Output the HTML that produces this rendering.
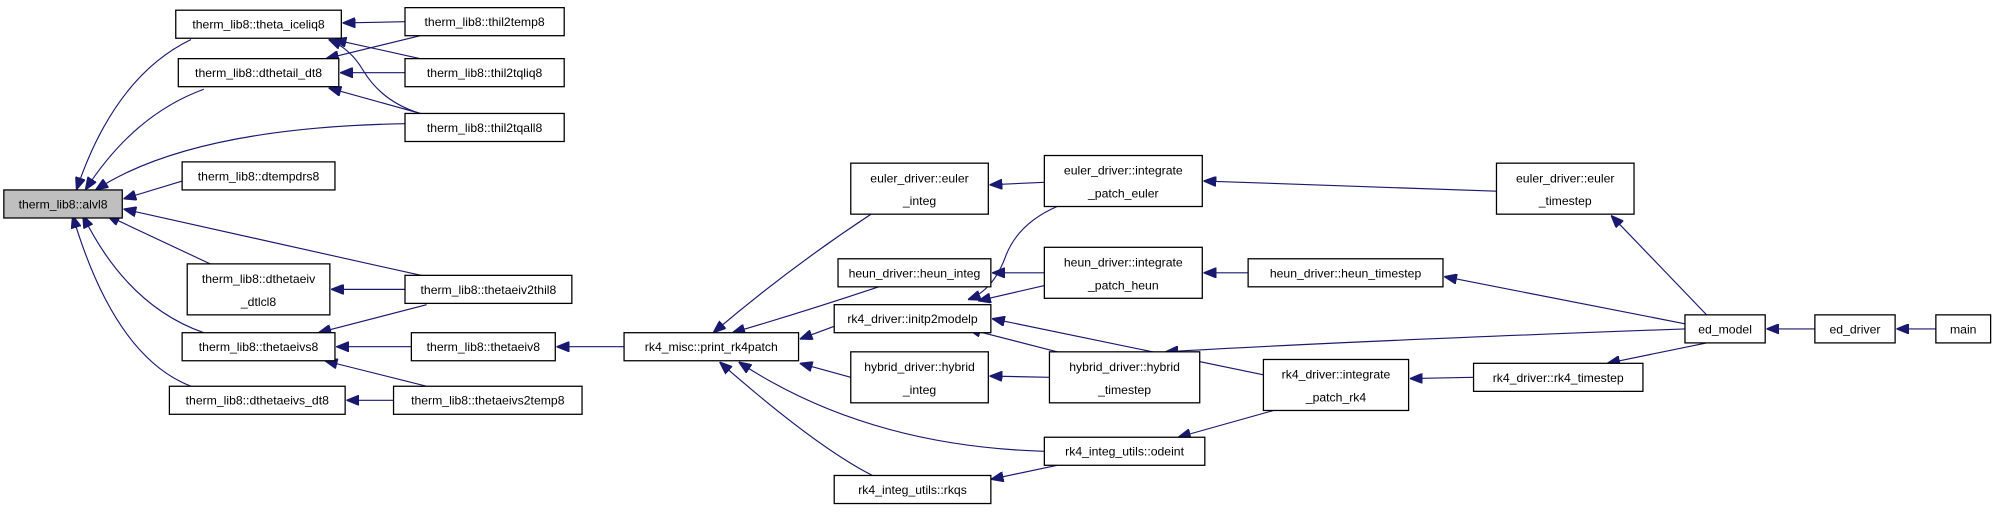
<!DOCTYPE html>
<html><head><meta charset="utf-8"><style>
html,body{margin:0;padding:0;background:#fff;}
svg{display:block;}
text{font-family:"Liberation Sans",Arial,sans-serif;font-size:9.6px;fill:#000;text-anchor:middle;}
rect{fill:#fff;stroke:#000;stroke-width:1;}
path{fill:none;stroke:#191970;stroke-width:0.9;}
</style></head><body>
<svg width="1997" height="515" viewBox="0 0 1568 404" preserveAspectRatio="none" xmlns="http://www.w3.org/2000/svg">
<defs><marker id="a" viewBox="0 0 10 8" refX="10" refY="4" markerWidth="10" markerHeight="8" markerUnits="userSpaceOnUse" orient="auto"><path d="M0,0 L10,4 L0,8 z" style="fill:#191970;stroke:#191970"/></marker></defs>
<g marker-end="url(#a)">
<path d="M150,31 Q90,60 60,149"/>
<path d="M160,70 Q105,90 67,149"/>
<path d="M318,97 Q150,100 75,149"/>
<path d="M143,142 L97,156"/>
<path d="M335,217 L97,164"/>
<path d="M165,207 L84,169"/>
<path d="M160,261 Q100,240 65,169"/>
<path d="M150,303 Q90,280 57,169"/>
<path d="M318,17 L269,18"/>
<path d="M330,46 L262,31"/>
<path d="M330,89 Q300,80 285,55 Q275,38 258,31"/>
<path d="M330,28 L256,46"/>
<path d="M318,57 L267,57"/>
<path d="M330,89 L258,69"/>
<path d="M318,227 L260,227"/>
<path d="M335,239 L250,261"/>
<path d="M323,272 L264,272"/>
<path d="M335,303 L255,283"/>
<path d="M309,314 L272,314"/>
<path d="M490,272 L437,272"/>
<path d="M684,168 Q620,210 560,261"/>
<path d="M690,225 Q630,245 575,261"/>
<path d="M655,256 L628,266"/>
<path d="M668,296 L628,285"/>
<path d="M820,354 Q680,350 580,284"/>
<path d="M685,373 Q640,350 565,284"/>
<path d="M820,143 L777,145"/>
<path d="M820,214 L779,214"/>
<path d="M830,162 Q800,175 790,200 Q780,228 760,235"/>
<path d="M820,224 L768,236"/>
<path d="M992,294 L779,250"/>
<path d="M830,276 L760,258"/>
<path d="M824,296 L777,295"/>
<path d="M830,365 L778,376"/>
<path d="M980,214 L945,214"/>
<path d="M1175,150 L945,142"/>
<path d="M1157,296 L1107,297"/>
<path d="M1000,322 L925,343"/>
<path d="M1340,247 L1265,169"/>
<path d="M1323,254 L1134,217"/>
<path d="M1323,258 Q1050,268 915,276"/>
<path d="M1340,269 L1262,285"/>
<path d="M1425,258 L1387,258"/>
<path d="M1520,258 L1489,258"/>
</g>
<rect x="3" y="149" width="93" height="22" style="fill:#bfbfbf"/><text x="49.5" y="163.5">therm_lib8::alvl8</text>
<rect x="138" y="8" width="130" height="22"/><text x="203" y="22.5">therm_lib8::theta_iceliq8</text>
<rect x="318" y="6" width="125" height="22"/><text x="380.5" y="20.5">therm_lib8::thil2temp8</text>
<rect x="140" y="46" width="126" height="22"/><text x="203" y="60.5">therm_lib8::dthetail_dt8</text>
<rect x="318" y="46" width="125" height="22"/><text x="380.5" y="60.5">therm_lib8::thil2tqliq8</text>
<rect x="318" y="89" width="125" height="22"/><text x="380.5" y="103.5">therm_lib8::thil2tqall8</text>
<rect x="143" y="127" width="120" height="22"/><text x="203" y="141.5">therm_lib8::dtempdrs8</text>
<rect x="147" y="207" width="112" height="40"/><text x="203" y="222">therm_lib8::dthetaeiv</text><text x="203" y="240">_dtlcl8</text>
<rect x="318" y="216" width="131" height="22"/><text x="383.5" y="230.5">therm_lib8::thetaeiv2thil8</text>
<rect x="143" y="261" width="120" height="22"/><text x="203" y="275.5">therm_lib8::thetaeivs8</text>
<rect x="323" y="261" width="113" height="22"/><text x="379.5" y="275.5">therm_lib8::thetaeiv8</text>
<rect x="133" y="303" width="138" height="22"/><text x="202" y="317.5">therm_lib8::dthetaeivs_dt8</text>
<rect x="309" y="303" width="148" height="22"/><text x="383" y="317.5">therm_lib8::thetaeivs2temp8</text>
<rect x="490" y="261" width="137" height="22"/><text x="558.5" y="275.5">rk4_misc::print_rk4patch</text>
<rect x="668" y="128" width="108" height="40"/><text x="722" y="143">euler_driver::euler</text><text x="722" y="161">_integ</text>
<rect x="658" y="203" width="120" height="22"/><text x="718" y="217.5">heun_driver::heun_integ</text>
<rect x="655" y="239" width="123" height="22"/><text x="716.5" y="253.5">rk4_driver::initp2modelp</text>
<rect x="668" y="276" width="108" height="40"/><text x="722" y="291">hybrid_driver::hybrid</text><text x="722" y="309">_integ</text>
<rect x="655" y="373" width="123" height="22"/><text x="716.5" y="387.5">rk4_integ_utils::rkqs</text>
<rect x="820" y="122" width="124" height="40"/><text x="882" y="137">euler_driver::integrate</text><text x="882" y="155">_patch_euler</text>
<rect x="820" y="194" width="124" height="40"/><text x="882" y="209">heun_driver::integrate</text><text x="882" y="227">_patch_heun</text>
<rect x="824" y="276" width="118" height="40"/><text x="883" y="291">hybrid_driver::hybrid</text><text x="883" y="309">_timestep</text>
<rect x="820" y="343" width="126" height="22"/><text x="883" y="357.5">rk4_integ_utils::odeint</text>
<rect x="992" y="282" width="114" height="40"/><text x="1049" y="297">rk4_driver::integrate</text><text x="1049" y="315">_patch_rk4</text>
<rect x="1175" y="128" width="108" height="40"/><text x="1229" y="143">euler_driver::euler</text><text x="1229" y="161">_timestep</text>
<rect x="980" y="203" width="153" height="22"/><text x="1056.5" y="217.5">heun_driver::heun_timestep</text>
<rect x="1157" y="285" width="133" height="22"/><text x="1223.5" y="299.5">rk4_driver::rk4_timestep</text>
<rect x="1323" y="247" width="63" height="22"/><text x="1354.5" y="261.5">ed_model</text>
<rect x="1425" y="247" width="63" height="22"/><text x="1456.5" y="261.5">ed_driver</text>
<rect x="1520" y="247" width="43" height="22"/><text x="1541.5" y="261.5">main</text>
</svg>
</body></html>
